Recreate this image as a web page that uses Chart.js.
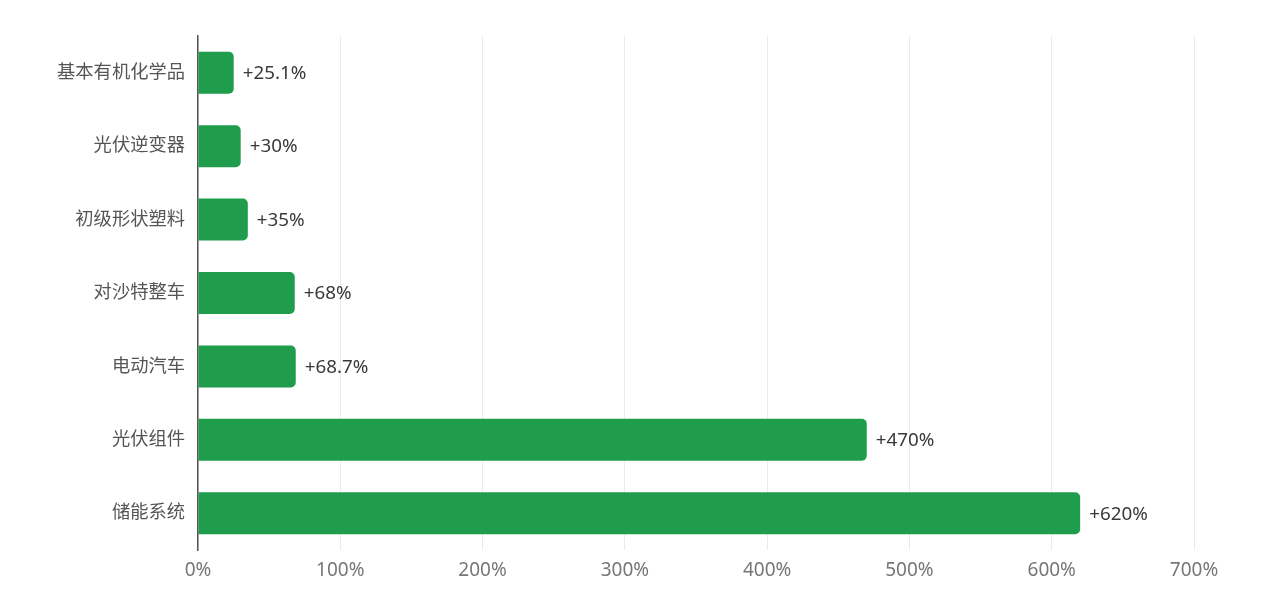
<!DOCTYPE html>
<html>
<head>
<meta charset="utf-8">
<script src="https://cdn.jsdelivr.net/npm/chart.js@4/dist/chart.umd.min.js"></script>
<style>
  html, body { margin: 0; padding: 0; background: #fff; }
  #wrap { width: 1265px; height: 604px; }
</style>
</head>
<body>
<div id="wrap"><canvas id="growthChart"></canvas></div>
<script>
const categories = ["基本有机化学品", "光伏逆变器", "初级形状塑料", "对沙特整车", "电动汽车", "光伏组件", "储能系统"];
const growthValues = [25.1, 30, 35, 68, 68.7, 470, 620];
const xTicks = [0, 100, 200, 300, 400, 500, 600, 700];

const FONT = '"Noto Sans", "Noto Sans CJK SC", sans-serif';

// draws "+xx%" just past the end of each bar
const valueLabels = {
  id: "valueLabels",
  afterDatasetsDraw(chart) {
    const ctx = chart.ctx;
    const meta = chart.getDatasetMeta(0);
    ctx.save();
    ctx.font = "18.8px " + FONT;
    ctx.fillStyle = "#3a3a3a";
    ctx.textAlign = "left";
    ctx.textBaseline = "middle";
    meta.data.forEach((bar, i) => {
      ctx.fillText("+" + growthValues[i] + "%", bar.x + 9, bar.y + 1);
    });
    ctx.restore();
  }
};

new Chart(document.getElementById("growthChart"), {
  type: "bar",
  data: {
    labels: categories,
    datasets: [{
      data: growthValues,
      backgroundColor: "#1f9d4c",
      borderRadius: 5,
      borderSkipped: "start",
      barPercentage: 0.9,
      categoryPercentage: 0.635
    }]
  },
  options: {
    indexAxis: "y",
    responsive: true,
    maintainAspectRatio: false,
    animation: false,
    layout: { padding: { top: 36, right: 71, left: 0, bottom: 0 } },
    plugins: {
      legend: { display: false },
      tooltip: { enabled: false }
    },
    scales: {
      x: {
        min: 0,
        max: 700,
        afterBuildTicks: (scale) => { scale.ticks = xTicks.map(v => ({ value: v })); },
        afterFit: (scale) => { scale.height = 54; },
        grid: { color: "#ebebeb", lineWidth: 1, drawTicks: false },
        border: { display: false },
        ticks: {
          padding: 9,
          color: "#777",
          font: { family: FONT, size: 19 },
          callback: (v) => v + "%"
        }
      },
      y: {
        afterFit: (scale) => { scale.width = 198; },
        grid: { display: true, color: "transparent", drawTicks: false },
        border: { display: true, color: "#555", width: 1.5 },
        ticks: {
          padding: 13,
          color: "#555",
          font: { family: FONT, size: 18.3 }
        }
      }
    }
  },
  plugins: [valueLabels]
});
</script>
</body>
</html>
